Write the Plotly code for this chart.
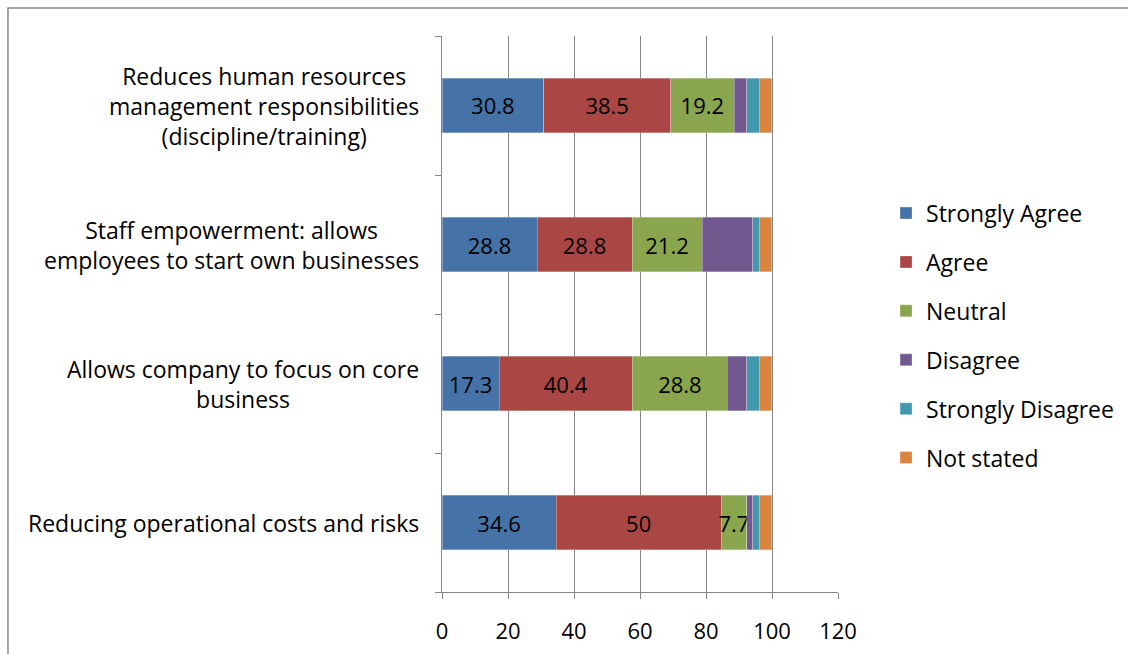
import plotly.graph_objects as go

# Survey statements (bottom to top on the chart)
categories = [
    "Reducing operational costs and risks",
    "Allows company to focus on core<br>business",
    "Staff empowerment: allows<br>employees to start own businesses",
    "Reduces human resources<br>management responsibilities<br>(discipline/training)",
]

series_names = ["Strongly Agree", "Agree", "Neutral", "Disagree",
                "Strongly Disagree", "Not stated"]

strongly_agree = [34.6, 17.3, 28.8, 30.8]
agree = [50, 40.4, 28.8, 38.5]
neutral = [7.7, 28.8, 21.2, 19.2]
disagree = [1.9, 5.8, 15.4, 3.8]
strongly_disagree = [1.9, 3.8, 1.9, 3.8]
not_stated = [3.8, 3.8, 3.8, 3.8]

x_ticks = [0, 20, 40, 60, 80, 100, 120]

series_values = [strongly_agree, agree, neutral, disagree,
                 strongly_disagree, not_stated]
colors = ["#4572A7", "#AA4643", "#89A54E", "#71588F", "#4198AF", "#DB843D"]
labelled = [True, True, True, False, False, False]

FONT = "Open Sans"
FS = 23
GRID = "#878787"

fig = go.Figure()
for name, vals, col, lab in zip(series_names, series_values, colors, labelled):
    fig.add_trace(go.Bar(
        y=categories, x=vals, name=name, orientation="h",
        marker=dict(color=col, line=dict(color="rgba(255,255,255,0.5)", width=0.6)),
        text=[f"{v:g}" for v in vals] if lab else None,
        textposition="inside" if lab else "none",
        insidetextanchor="middle",
        textangle=0,
        constraintext="none",
        textfont=dict(family=FONT, size=FS - 1, color="black"),
        legendgroup=name,
        hoverinfo="x+name",
    ))

# Category labels drawn as centred multi-line text to the left of the axis
for c in categories:
    fig.add_annotation(
        x=-0.053, xref="paper", y=c, yref="y", text=c, showarrow=False,
        xanchor="right", yanchor="middle", align="center",
        font=dict(family=FONT, size=FS, color="black"),
    )

# Outer chart frame
fig.add_shape(type="rect", xref="paper", yref="paper",
              x0=-1.096, x1=2.0, y0=-0.5, y1=1.0504,
              line=dict(color=GRID, width=1.5), fillcolor="rgba(0,0,0,0)")

fig.update_layout(
    barmode="stack",
    bargap=0.61,
    width=1128, height=654,
    margin=dict(l=442, r=290, t=36, b=62, autoexpand=False),
    paper_bgcolor="white", plot_bgcolor="white",
    font=dict(family=FONT, size=FS, color="black"),
    uniformtext=dict(mode=False),
    legend=dict(
        xref="container", yref="container",
        x=0.7855, y=0.707, xanchor="left", yanchor="top",
        traceorder="grouped", tracegroupgap=16,
        font=dict(family=FONT, size=FS, color="black"),
        bgcolor="rgba(0,0,0,0)",
    ),
    xaxis=dict(
        range=[0, 120], tickvals=x_ticks, ticktext=[str(t) for t in x_ticks],
        showgrid=True, gridcolor=GRID, gridwidth=1,
        zeroline=False, showline=True, linecolor=GRID, linewidth=1,
        ticks="outside", ticklen=6, tickcolor=GRID,
        ticklabelstandoff=14, automargin=False,
        tickfont=dict(family=FONT, size=FS - 1, color="black"),
        fixedrange=True,
    ),
    yaxis=dict(
        categoryorder="array", categoryarray=categories,
        showticklabels=False, showline=True, linecolor=GRID, linewidth=1,
        ticks="outside", ticklen=6, tickcolor=GRID, tickson="boundaries",
        showgrid=False, fixedrange=True, automargin=False,
    ),
)

fig.write_html("out.html")
